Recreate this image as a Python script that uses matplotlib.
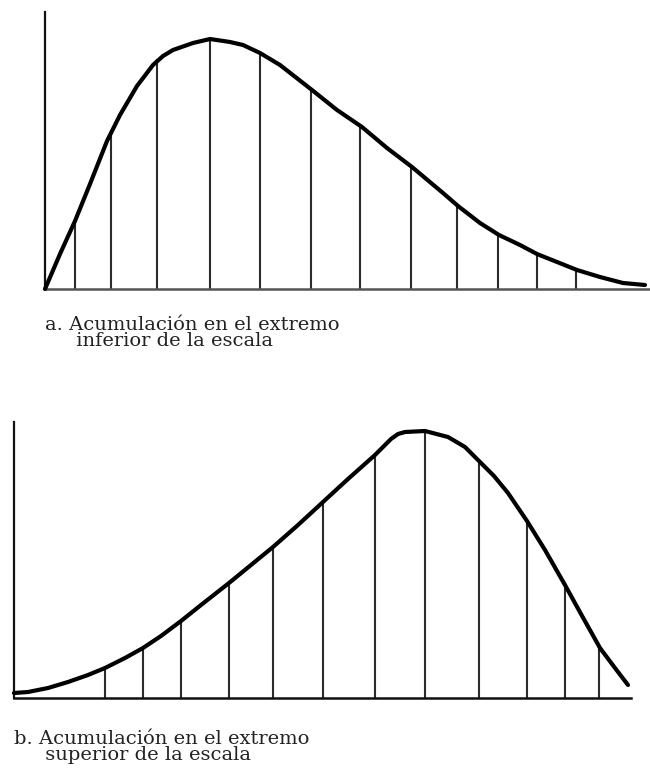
import matplotlib.pyplot as plt

# panel a: positive skew (scale position, frequency)
top_curve_x = [0, 15, 30, 45, 62, 75, 92, 108, 118, 128, 148, 165, 185, 198, 215, 235, 267,
               292, 317, 342, 367, 398, 413, 435, 454, 475, 492, 512, 532, 555, 578, 600]
top_curve_y = [0, 35, 68, 105, 148, 174, 203, 224, 233, 239, 246, 250, 247, 244, 236, 224, 199,
               179, 162, 141, 122, 96, 83, 66, 54, 44, 35, 27, 19, 12, 6, 4]
top_bar_x = [30, 66, 112, 165, 215, 266, 315, 366, 412, 453, 492, 531]
top_bar_h = [67, 157, 230, 250, 236, 200, 163, 123, 83, 55, 35, 19]

# panel b: negative skew
bot_curve_x = [0, 14, 34, 54, 74, 91, 111, 129, 147, 167, 187, 215, 237, 259, 284,
               309, 334, 361, 377, 384, 391, 411, 434, 451, 466, 480, 494, 513, 531, 551, 567, 586, 601, 614]
bot_curve_y = [5, 6, 10, 16, 23, 30, 40, 50, 62, 77, 93, 115, 133, 151, 173,
               196, 219, 243, 259, 264, 266, 267, 261, 251, 236, 222, 205, 177, 148, 113, 84, 50, 30, 13]
bot_bar_x = [91, 129, 167, 215, 259, 309, 361, 411, 465, 513, 551, 585]
bot_bar_h = [30, 50, 77, 115, 151, 196, 243, 267, 237, 176, 111, 50]

captions = [
    "a. Acumulación en el extremo\n     inferior de la escala",
    "b. Acumulación en el extremo\n     superior de la escala",
]

W, H = 650, 772
fig = plt.figure(figsize=(W / 100, H / 100), dpi=100)


def panel(rect, xmax, ymax, cx, cy, bx, bh, base_color):
    left, top, right, bottom = rect
    ax = fig.add_axes([left / W, 1 - bottom / H, (right - left) / W, (bottom - top) / H])
    ax.vlines(bx, 0, bh, color="#2b2b2b", lw=1.5)
    ax.plot(cx, cy, color="black", lw=3.0, solid_capstyle="round",
            solid_joinstyle="round", clip_on=False, zorder=3)
    ax.set_xlim(0, xmax)
    ax.set_ylim(0, ymax)
    ax.set_xticks([])
    ax.set_yticks([])
    ax.spines[["top", "right"]].set_visible(False)
    ax.spines["left"].set_linewidth(1.6)
    ax.spines["left"].set_color("#111111")
    ax.spines["bottom"].set_linewidth(1.8)
    ax.spines["bottom"].set_color(base_color)
    return ax


panel((45, 12, 650, 289), 605, 277, top_curve_x, top_curve_y, top_bar_x, top_bar_h, "#555555")
panel((14, 422, 631, 698), 617, 276, bot_curve_x, bot_curve_y, bot_bar_x, bot_bar_h, "#111111")

text_kw = dict(family="DejaVu Serif", fontsize=14, color="#222222",
               va="top", linespacing=0.85)
fig.text(45 / W, 1 - 316 / H, captions[0], **text_kw)
fig.text(14 / W, 1 - 730 / H, captions[1], **text_kw)

fig.savefig("out.png", dpi=100)
plt.close(fig)
